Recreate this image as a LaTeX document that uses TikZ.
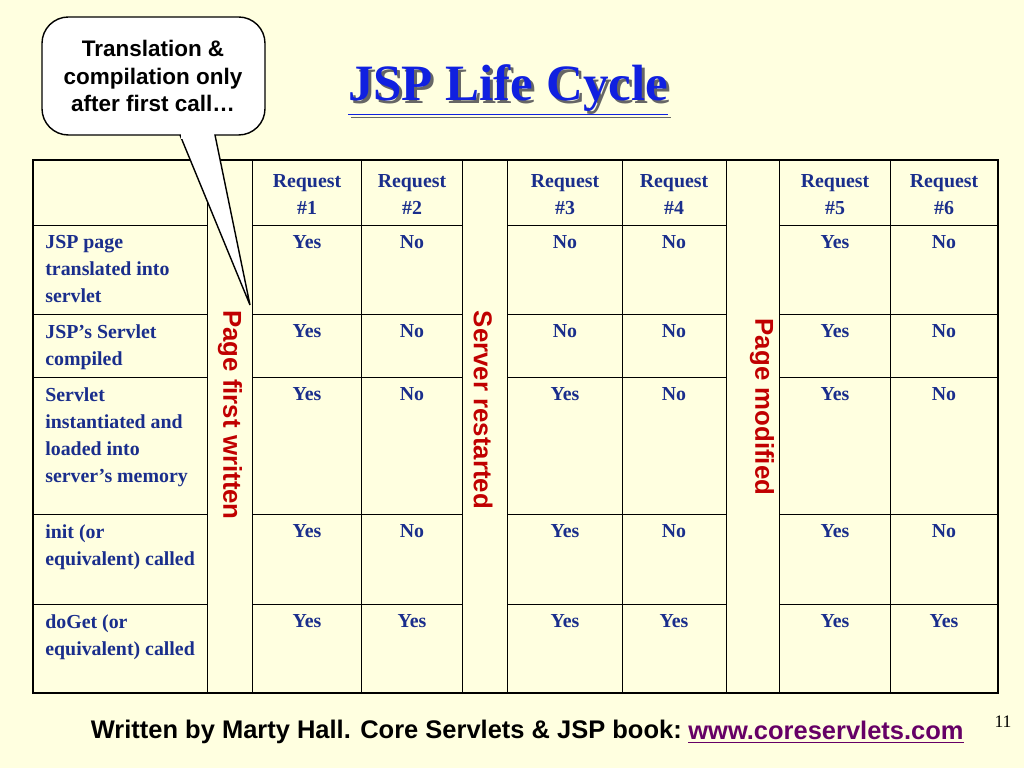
\documentclass[tikz,border=0pt]{standalone}
\usepackage{fontspec}
\usetikzlibrary{positioning}
\setmainfont{Liberation Serif}
\setsansfont{Liberation Sans}
\definecolor{slidebg}{HTML}{FFFFE0}
\definecolor{cellblue}{HTML}{1A2E8C}
\definecolor{titleblue}{HTML}{1020E0}
\definecolor{labelred}{HTML}{C00000}
\definecolor{linkpurple}{HTML}{660066}
\begin{document}
\begin{tikzpicture}[x=0.2mm, y=-0.2mm,
    cell/.style={font=\fontsize{11.3}{15.5}\selectfont\bfseries, text=cellblue, align=center, anchor=north, inner sep=0pt},
    rowhead/.style={font=\fontsize{11.3}{15.5}\selectfont\bfseries, text=cellblue, align=left, anchor=north west, inner sep=0pt},
    sidelabel/.style={font=\sffamily\bfseries\fontsize{14.7}{16}\selectfont, text=labelred, rotate=-90}]

  \fill[slidebg] (0,0) rectangle (1024,768);
  \useasboundingbox (0,0) rectangle (1024,768);

  % title
  \node[font=\fontsize{29}{32}\selectfont\bfseries, text=black!60] at (511,93) {\underline{JSP Life Cycle}};
  \node[font=\fontsize{29}{32}\selectfont\bfseries, text=titleblue] (title) at (508,90) {\underline{JSP Life Cycle}};

  % table grid
  \foreach \x in {207,252,361,462,507,622,726,779,890}
    \draw[thin] (\x,160) -- (\x,693);
  \foreach \y in {225,314,377,514,604} {
    \draw[thin] (33,\y) -- (207,\y);
    \draw[thin] (252,\y) -- (462,\y);
    \draw[thin] (507,\y) -- (726,\y);
    \draw[thin] (779,\y) -- (998,\y);
  }
  \draw[line width=1.6pt] (33,160) rectangle (998,693);

  % column heads
  \foreach \x/\n in {307/1,412/2,565/3,674/4,835/5,944/6}
    \node[cell] (req\n) at (\x,174) {Request\\\#\n};

  % row heads
  \node[rowhead] (translated) at (45,235) {JSP page\\translated into\\servlet};
  \node[rowhead] (compiled) at (45,324) {JSP’s Servlet\\compiled};
  \node[rowhead] (loaded) at (45,387) {Servlet\\instantiated and\\loaded into\\server's memory};
  \node[rowhead] (init) at (45,524) {init (or\\equivalent) called};
  \node[rowhead] (doget) at (45,614) {doGet (or\\equivalent) called};

  % answers
  \foreach \y/\r/\a/\b/\c/\d/\e/\f in {
      235/1/Yes/No/No/No/Yes/No,
      324/2/Yes/No/No/No/Yes/No,
      387/3/Yes/No/Yes/No/Yes/No,
      524/4/Yes/No/Yes/No/Yes/No,
      614/5/Yes/Yes/Yes/Yes/Yes/Yes} {
    \node[cell] (a\r1) at (307,\y) {\a};
    \node[cell] (a\r2) at (412,\y) {\b};
    \node[cell] (a\r3) at (565,\y) {\c};
    \node[cell] (a\r4) at (674,\y) {\d};
    \node[cell] (a\r5) at (835,\y) {\e};
    \node[cell] (a\r6) at (944,\y) {\f};
  }

  % vertical labels
  \node[sidelabel] (firstwritten) at (230,415) {Page first written};
  \node[sidelabel] (restarted) at (483,410) {Server restarted};
  \node[sidelabel] (modified) at (762,407) {Page modified};

  % callout
  \draw[fill=white, line width=0.8pt, rounded corners=15] (42,17) rectangle (265,135);
  \draw[fill=white, line width=0.8pt, line join=miter]
    (180,135) -- (250,305) -- (215,135);
  \fill[white] (181,131) rectangle (214,139);
  \node[font=\sffamily\bfseries\fontsize{12.8}{15.5}\selectfont, align=center] (note) at (153,76)
    {Translation \&\\compilation only\\after first call…};

  % footer
  \node[font=\sffamily\bfseries\fontsize{14.5}{16}\selectfont, anchor=east] (credit) at (688,732)
    {Written by Marty Hall. Core Servlets \& JSP book:};
  \node[font=\sffamily\bfseries\fontsize{14.5}{16}\selectfont, text=linkpurple, right=0pt of credit, inner sep=0pt] (link)
    {\underline{www.coreservlets.com}};
  \node[font=\fontsize{10}{11}\selectfont] (page) at (1003,722) {11};
\end{tikzpicture}
\end{document}
